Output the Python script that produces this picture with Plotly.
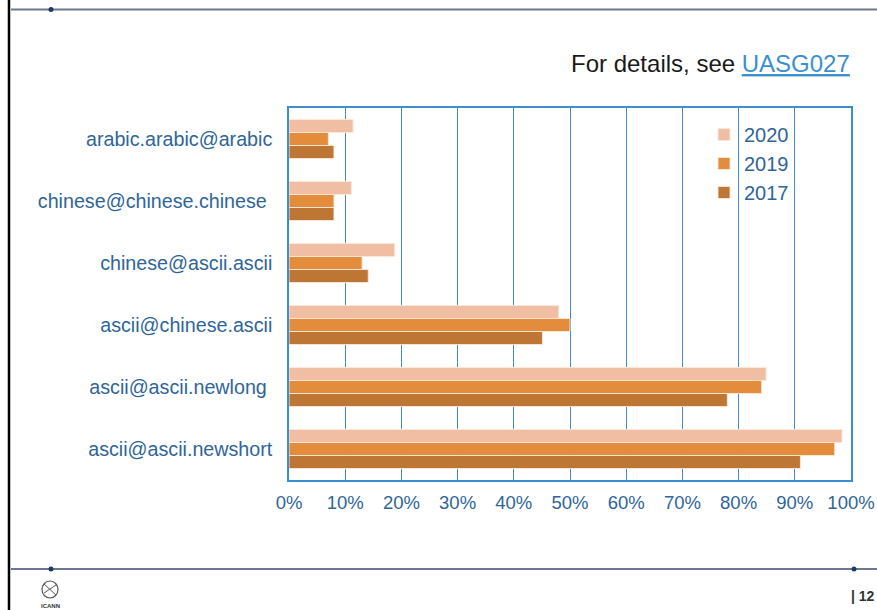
import plotly.graph_objects as go

categories = [
    "arabic.arabic@arabic",
    "chinese@chinese.chinese ",
    "chinese@ascii.ascii",
    "ascii@chinese.ascii",
    "ascii@ascii.newlong ",
    "ascii@ascii.newshort",
]
series_names = ["2020", "2019", "2017"]
values_2020 = [0.114, 0.111, 0.188, 0.480, 0.849, 0.984]
values_2019 = [0.070, 0.080, 0.130, 0.500, 0.841, 0.971]
values_2017 = [0.080, 0.080, 0.141, 0.451, 0.780, 0.910]
tick_vals = [0, 0.1, 0.2, 0.3, 0.4, 0.5, 0.6, 0.7, 0.8, 0.9, 1.0]
tick_text = ["0%", "10%", "20%", "30%", "40%", "50%", "60%", "70%", "80%", "90%", "100%"]

colors = ["#F0BFA3", "#E28C3C", "#BE7634"]
series_values = [values_2020, values_2019, values_2017]

W, H = 877, 610
L, R, T, B = 289, 26, 108, 130
PW, PH = W - L - R, H - T - B

def px(x):
    return (x - L) / PW

def py(y):
    return (H - B - y) / PH

FONT = "Liberation Sans, Arial, sans-serif"
LABEL_COLOR = "#2F6598"
GRID = "#3E8DD0"

fig = go.Figure()
for name, vals, col in zip(series_names, series_values, colors):
    fig.add_trace(go.Bar(
        y=categories, x=vals, name=name, orientation="h",
        marker=dict(color=col, line=dict(color="rgba(250,232,220,0.9)", width=1)),
        legendgroup=name,
    ))

fig.update_layout(
    width=W, height=H,
    margin=dict(l=L, r=R, t=T, b=B, pad=0, autoexpand=False),
    paper_bgcolor="white", plot_bgcolor="white",
    barmode="group", bargap=0.37, bargroupgap=0,
    font=dict(family=FONT, size=18, color=LABEL_COLOR),
    showlegend=True,
    legend=dict(
        x=px(704), y=py(115), xanchor="left", yanchor="top",
        bgcolor="rgba(0,0,0,0)", font=dict(size=20, color=LABEL_COLOR),
        traceorder="normal", tracegroupgap=8, itemwidth=30,
    ),
    xaxis=dict(
        range=[0, 1.0], tickvals=tick_vals, ticktext=tick_text,
        showgrid=True, gridcolor=GRID, gridwidth=1.2,
        showline=True, linecolor=GRID, linewidth=1.5, mirror=True,
        ticks="", zeroline=False, fixedrange=True, automargin=False,
        tickfont=dict(size=18.5, color=LABEL_COLOR), ticklabelstandoff=5,
    ),
    yaxis=dict(
        autorange="reversed", categoryorder="array", categoryarray=categories,
        showline=True, linecolor=GRID, linewidth=1.5, mirror=True,
        showgrid=False, ticks="", fixedrange=True, automargin=False,
        tickfont=dict(size=19.7, color=LABEL_COLOR), ticklabelstandoff=11,
    ),
)

line_col = "#6B7891"
dot_col = "#1F3A5F"
shapes = [
    dict(type="line", xref="paper", yref="paper", x0=px(11), x1=px(877), y0=py(9.5), y1=py(9.5),
         line=dict(color=line_col, width=2)),
    dict(type="line", xref="paper", yref="paper", x0=px(11), x1=px(877), y0=py(569), y1=py(569),
         line=dict(color=line_col, width=2)),
    dict(type="line", xref="paper", yref="paper", x0=px(9), x1=px(9), y0=py(0), y1=py(610),
         line=dict(color="black", width=2.5)),
]
for cx, cy in [(51, 9.5), (51, 569), (854, 569)]:
    shapes.append(dict(type="circle", xref="paper", yref="paper",
                       x0=px(cx - 2.5), x1=px(cx + 2.5), y0=py(cy + 2.5), y1=py(cy - 2.5),
                       fillcolor=dot_col, line=dict(width=0)))
# small globe logo approximation
shapes.append(dict(type="circle", xref="paper", yref="paper",
                   x0=px(42), x1=px(58), y0=py(598), y1=py(581),
                   fillcolor="rgba(0,0,0,0)", line=dict(color="#555", width=1.2)))
shapes.append(dict(type="line", xref="paper", yref="paper",
                   x0=px(44), x1=px(56), y0=py(584), y1=py(595),
                   line=dict(color="#555", width=1)))
shapes.append(dict(type="line", xref="paper", yref="paper",
                   x0=px(44), x1=px(56), y0=py(593), y1=py(585),
                   line=dict(color="#555", width=1)))
fig.update_layout(shapes=shapes)

annotations = [
    dict(xref="paper", yref="paper", x=px(852), y=py(63), xanchor="right", yanchor="middle",
         showarrow=False,
         text="For details, see <span style='color:#3A8FD1'><u>UASG027</u></span>",
         font=dict(family=FONT, size=24, color="#1A1A1A")),
    dict(xref="paper", yref="paper", x=px(877), y=py(596), xanchor="right", yanchor="middle",
         showarrow=False, text="<b>| 12</b>",
         font=dict(family=FONT, size=14, color="#333")),
    dict(xref="paper", yref="paper", x=px(50), y=py(606), xanchor="center", yanchor="middle",
         showarrow=False, text="<b>ICANN</b>",
         font=dict(family=FONT, size=6, color="#333")),
]
fig.update_layout(annotations=annotations)

fig.write_html("out.html", config={"displayModeBar": False},
               post_script="document.body.style.margin='0';")
